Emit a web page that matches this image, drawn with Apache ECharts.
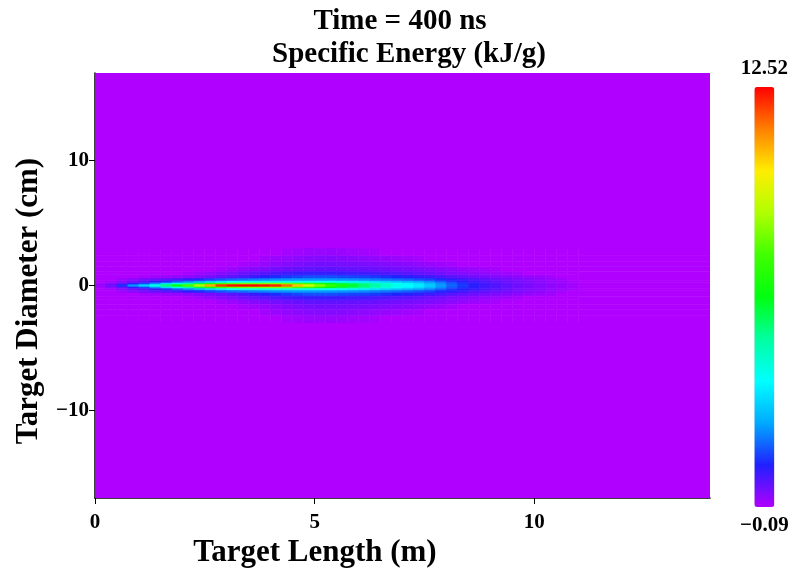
<!DOCTYPE html>
<html>
<head>
<meta charset="utf-8">
<script src="https://cdn.jsdelivr.net/npm/echarts@6/dist/echarts.min.js"></script>
<style>html,body{margin:0;padding:0;background:#fff}#c{width:803px;height:578px}</style>
</head>
<body>
<div id="c"></div>
<script>
// ---- data ----
const titleText = 'Time = 400 ns';
const subTitleText = 'Specific Energy (kJ/g)';
const xName = 'Target Length (m)';
const yName = 'Target Diameter (cm)';
const vMin = -0.09;
const vMax = 12.52;
const bgValue = -0.09;
const xTicks = [0, 5, 10];
const yTicks = [-10, 0, 10];
const xRange = [0, 14];
const yRange = [-17, 17];
// column edges along target length (m), 0.25 m wide columns from 0 to 11 m
const xEdges = [0,0.25,0.5,0.75,1,1.25,1.5,1.75,2,2.25,2.5,2.75,3,3.25,3.5,3.75,4,4.25,4.5,4.75,5,5.25,5.5,5.75,6,6.25,6.5,6.75,7,7.25,7.5,7.75,8,8.25,8.5,8.75,9,9.25,9.5,9.75,10,10.25,10.5,10.75,11];
// band edges above the axis (cm); the plume is mirrored below
const yEdgesUpper = [0.12,0.25,0.4,0.6,0.85,1.15,1.5,1.9,2.4,3.0];
// values of each band (kJ/g); band0 = centre-line band
const band0 = [0.1,0.5,1.3,2.2,3.0,4.0,5.3,6.4,7.5,8.8,10.8,12.0,12.4,12.5,12.5,12.4,12.2,11.5,10.5,9.3,8.2,7.2,6.6,6.0,5.4,4.9,4.4,4.0,3.7,3.4,2.9,2.3,1.8,1.4,1.1,0.9,0.75,0.6,0.48,0.38,0.28,0.2,0.12,0.04];
const band1 = [0.0,0.2,0.6,1.0,1.5,2.2,3.1,4.0,4.9,5.8,6.7,7.4,7.8,8.0,8.1,8.2,8.2,8.0,7.6,7.2,6.7,6.2,5.8,5.4,5.0,4.6,4.2,3.8,3.5,3.2,2.7,2.2,1.7,1.35,1.05,0.85,0.7,0.56,0.45,0.35,0.26,0.18,0.1,0.03];
const band2 = [-0.09,0.05,0.25,0.5,0.7,1.0,1.3,1.7,2.1,2.5,3.0,3.4,3.7,3.9,4.0,4.1,4.1,4.1,4.0,3.9,3.8,3.7,3.6,3.5,3.4,3.2,3.0,2.8,2.6,2.4,2.1,1.75,1.4,1.15,0.95,0.78,0.64,0.52,0.42,0.32,0.24,0.16,0.08,0.01];
const band3 = [-0.09,-0.09,0.1,0.25,0.4,0.55,0.7,0.85,1.05,1.25,1.45,1.65,1.8,1.9,2.0,2.1,2.2,2.25,2.3,2.3,2.3,2.3,2.25,2.2,2.15,2.05,1.95,1.85,1.75,1.6,1.45,1.25,1.05,0.9,0.76,0.64,0.54,0.44,0.36,0.28,0.2,0.13,0.06,-0.09];
const band4 = [-0.09,-0.09,-0.09,-0.09,0.0,0.05,0.1,0.15,0.22,0.3,0.4,0.52,0.65,0.8,0.95,1.1,1.25,1.4,1.5,1.6,1.6,1.6,1.55,1.5,1.45,1.4,1.3,1.2,1.1,1.0,0.9,0.8,0.68,0.58,0.48,0.4,0.33,0.26,0.2,0.14,0.09,0.04,-0.09,-0.09];
const band5 = [-0.09,-0.09,-0.09,-0.09,-0.09,-0.09,-0.09,-0.09,0.0,0.08,0.18,0.28,0.38,0.5,0.6,0.7,0.8,0.88,0.95,1.0,1.0,0.98,0.95,0.92,0.88,0.84,0.78,0.72,0.66,0.6,0.52,0.45,0.38,0.3,0.24,0.18,0.13,0.08,0.03,-0.09,-0.09,-0.09,-0.09,-0.09];
const band6 = [-0.09,-0.09,-0.09,-0.09,-0.09,-0.09,-0.09,-0.09,-0.09,-0.09,-0.09,0.02,0.1,0.2,0.28,0.36,0.44,0.5,0.56,0.6,0.62,0.62,0.6,0.58,0.55,0.52,0.48,0.45,0.42,0.38,0.34,0.28,0.22,0.16,0.1,0.05,0.0,-0.09,-0.09,-0.09,-0.09,-0.09,-0.09,-0.09];
const band7 = [-0.09,-0.09,-0.09,-0.09,-0.09,-0.09,-0.09,-0.09,-0.09,-0.09,-0.09,-0.09,-0.09,0.0,0.06,0.14,0.22,0.3,0.37,0.42,0.44,0.44,0.43,0.41,0.39,0.36,0.33,0.3,0.26,0.2,0.14,0.08,0.02,-0.09,-0.09,-0.09,-0.09,-0.09,-0.09,-0.09,-0.09,-0.09,-0.09,-0.09];
const band8 = [-0.09,-0.09,-0.09,-0.09,-0.09,-0.09,-0.09,-0.09,-0.09,-0.09,-0.09,-0.09,-0.09,-0.09,-0.09,0.04,0.1,0.16,0.22,0.27,0.3,0.3,0.28,0.25,0.22,0.18,0.14,0.1,0.06,0.02,-0.09,-0.09,-0.09,-0.09,-0.09,-0.09,-0.09,-0.09,-0.09,-0.09,-0.09,-0.09,-0.09,-0.09];
const band9 = [-0.09,-0.09,-0.09,-0.09,-0.09,-0.09,-0.09,-0.09,-0.09,-0.09,-0.09,-0.09,-0.09,-0.09,-0.09,-0.09,-0.09,0.02,0.07,0.11,0.13,0.12,0.1,0.07,0.04,0.01,-0.09,-0.09,-0.09,-0.09,-0.09,-0.09,-0.09,-0.09,-0.09,-0.09,-0.09,-0.09,-0.09,-0.09,-0.09,-0.09,-0.09,-0.09];
const colorStops = ['#b000ff','#2020ff','#00aaff','#00ffff','#00ffa0','#00ff10','#40ff00','#b0ff00','#ffee00','#ff8000','#ff0000'];

// ---- build cell table ----
const bands = [band0,band1,band2,band3,band4,band5,band6,band7,band8,band9];
const cells = [];
function pushRow(y0, y1, vals) {
  for (let i = 0; i < xEdges.length - 1; i++) cells.push([xEdges[i], xEdges[i+1], y0, y1, vals[i]]);
  cells.push([xEdges[xEdges.length-1], xRange[1], y0, y1, bgValue]);
}
pushRow(-yEdgesUpper[0], yEdgesUpper[0], bands[0]);
for (let k = 1; k < bands.length; k++) {
  pushRow(yEdgesUpper[k-1], yEdgesUpper[k], bands[k]);
  pushRow(-yEdgesUpper[k], -yEdgesUpper[k-1], bands[k]);
}
const plumeTop = yEdgesUpper[yEdgesUpper.length-1];
cells.push([xRange[0], xRange[1], plumeTop, yRange[1], bgValue]);
cells.push([xRange[0], xRange[1], yRange[0], -plumeTop, bgValue]);

const font = '"Liberation Serif", "Times New Roman", serif';
const fmt = v => String(v).replace('-', '\u2212');

const chart = echarts.init(document.getElementById('c'), null, {renderer: 'canvas'});
chart.setOption({
  backgroundColor: '#fff',
  animation: false,
  title: [
    {text: titleText, left: 395, top: 2, textAlign: 'center',
     textStyle: {fontFamily: font, fontWeight: 'bold', fontSize: 29, color: '#000'}},
    {text: subTitleText, left: 404, top: 35, textAlign: 'center',
     textStyle: {fontFamily: font, fontWeight: 'bold', fontSize: 29, color: '#000'}},
    {text: xName, left: 310, top: 532, textAlign: 'center',
     textStyle: {fontFamily: font, fontWeight: 'bold', fontSize: 31, color: '#000'}}
  ],
  graphic: [{
    type: 'text', x: 29, y: 301, rotation: Math.PI / 2,
    style: {text: yName, font: 'bold 31px ' + font, fill: '#000', align: 'center', verticalAlign: 'middle'}
  }],
  grid: {left: 95, right: 93, top: 73, bottom: 80, containLabel: false},
  xAxis: {
    type: 'value', min: xRange[0], max: xRange[1],
    axisLine: {show: true, onZero: false, lineStyle: {color: '#000', width: 1.5}},
    axisTick: {show: true, length: 6, customValues: xTicks, lineStyle: {color: '#000'}},
    axisLabel: {show: true, customValues: xTicks, margin: 14, formatter: fmt,
      fontFamily: font, fontWeight: 'bold', fontSize: 21, color: '#000'},
    splitLine: {show: false}
  },
  yAxis: {
    type: 'value', min: yRange[0], max: yRange[1],
    axisLine: {show: true, onZero: false, lineStyle: {color: '#000', width: 1.5}},
    axisTick: {show: true, length: 6, customValues: yTicks, lineStyle: {color: '#000'}},
    axisLabel: {show: true, customValues: yTicks, margin: 6, formatter: fmt,
      fontFamily: font, fontWeight: 'bold', fontSize: 21, color: '#000'},
    splitLine: {show: false}
  },
  visualMap: {
    type: 'continuous', min: vMin, max: vMax, dimension: 4, seriesIndex: 0,
    calculable: false, orient: 'vertical', left: 725, top: 43,
    itemWidth: 20, itemHeight: 420,
    text: [String(vMax), fmt(vMin)], textGap: 8,
    textStyle: {fontFamily: font, fontWeight: 'bold', fontSize: 21, color: '#000'},
    inRange: {color: colorStops}
  },
  series: [{
    type: 'custom', coordinateSystem: 'cartesian2d', clip: true,
    encode: {x: [0, 1], y: [2, 3]},
    data: cells,
    renderItem: function (params, api) {
      const p0 = api.coord([api.value(0), api.value(3)]);
      const p1 = api.coord([api.value(1), api.value(2)]);
      const c = api.visual('color');
      return {type: 'rect',
        shape: {x: p0[0], y: p0[1], width: p1[0] - p0[0], height: p1[1] - p0[1]},
        style: {fill: c, stroke: c, lineWidth: 0.6}};
    }
  }]
});
</script>
</body>
</html>
